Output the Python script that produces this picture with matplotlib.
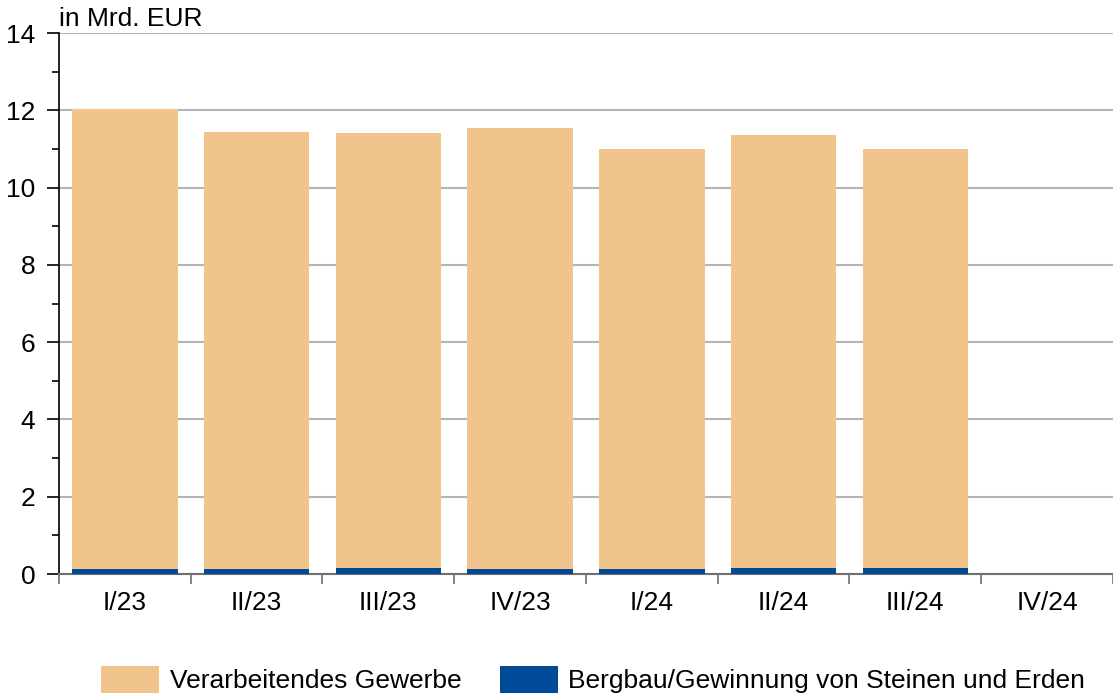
import numpy as np
import matplotlib.pyplot as plt

plt.rcParams['font.family'] = ['Liberation Sans', 'DejaVu Sans']

# Daten (in Mrd. EUR)
quartale = ['I/23', 'II/23', 'III/23', 'IV/23', 'I/24', 'II/24', 'III/24', 'IV/24']
bergbau = [0.13, 0.12, 0.15, 0.14, 0.13, 0.15, 0.17, 0.0]
verarbeitend = [11.90, 11.32, 11.25, 11.39, 10.87, 11.20, 10.83, 0.0]

fig = plt.figure(figsize=(11.13, 6.95), dpi=100)
ax = fig.add_axes([0.053, 0.174, 0.947, 0.7785])

x = np.arange(len(quartale))
ax.bar(x, bergbau, width=0.8, color='#004A98', label='Bergbau/Gewinnung von Steinen und Erden', zorder=3)
ax.bar(x, verarbeitend, width=0.8, bottom=bergbau, color='#F1C48C',
       label='Verarbeitendes Gewerbe', zorder=3)

ax.set_xlim(-0.5, len(quartale) - 0.5)
ax.set_ylim(0, 14)
ax.set_yticks(np.arange(0, 15, 2))
ax.set_yticks(np.arange(1, 14, 2), minor=True)
ax.yaxis.grid(True, color='#B4B4B4', linewidth=1.5, zorder=0)
ax.set_axisbelow(True)

# Kategorien zwischen den Ticks
ax.set_xticks(np.arange(-0.5, len(quartale)), minor=False)
ax.set_xticklabels([])
ax.set_xticks(x, minor=True)
ax.set_xticklabels(quartale, minor=True)
ax.tick_params(axis='x', which='major', length=7, color='#707070', width=1.2)
ax.tick_params(axis='x', which='minor', length=0, labelsize=19, pad=12)
ax.tick_params(axis='y', which='major', length=9, width=1.2, labelsize=19, pad=8)
ax.tick_params(axis='y', which='minor', length=5, width=1.2)

for s in ['top', 'right']:
    ax.spines[s].set_visible(False)
ax.spines['left'].set_linewidth(1.2)
ax.spines['bottom'].set_color('#707070')
ax.spines['bottom'].set_linewidth(1.5)

ax.text(0.0, 1.003, 'in Mrd. EUR', transform=ax.transAxes, fontsize=19,
        ha='left', va='bottom')

handles, labels = ax.get_legend_handles_labels()
fig.legend(handles[::-1], labels[::-1], loc='lower center', bbox_to_anchor=(0.533, -0.032),
           ncol=2, frameon=False, fontsize=19, handlelength=2.2, handleheight=1.15,
           columnspacing=1.45, handletextpad=0.4)

fig.savefig('out.png', dpi=100)
